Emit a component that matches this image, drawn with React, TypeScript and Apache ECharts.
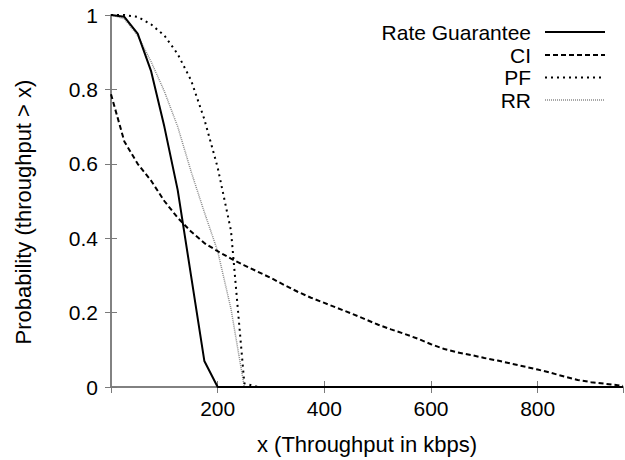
import React, { useEffect, useRef } from "react";
import * as echarts from "echarts";

const xTicks = [0, 200, 400, 600, 800];

const rgX = [0, 25, 50, 75, 100, 125, 150, 175, 200, 960];
const rgY = [1.0, 0.995, 0.95, 0.85, 0.7, 0.53, 0.3, 0.07, 0, 0];

const ciX = [0, 25, 50, 75, 100, 125, 150, 175, 200, 225, 250, 275, 300, 325, 350, 375, 400, 425, 450, 475, 500, 525, 550, 575, 600, 625, 650, 675, 700, 725, 750, 775, 800, 825, 850, 875, 900, 925, 950, 960];
const ciY = [0.787, 0.66, 0.6, 0.555, 0.5, 0.455, 0.418, 0.387, 0.365, 0.345, 0.327, 0.31, 0.293, 0.274, 0.256, 0.24, 0.226, 0.212, 0.198, 0.183, 0.168, 0.155, 0.143, 0.13, 0.115, 0.102, 0.093, 0.086, 0.078, 0.071, 0.063, 0.055, 0.047, 0.038, 0.028, 0.019, 0.013, 0.009, 0.005, 0.003];

const pfX = [0, 25, 50, 75, 100, 125, 150, 175, 200, 225, 250, 275, 960];
const pfY = [1.0, 1.0, 0.995, 0.975, 0.945, 0.895, 0.825, 0.72, 0.59, 0.42, 0.01, 0, 0];

const rrX = [0, 25, 50, 75, 100, 125, 150, 175, 200, 225, 250, 960];
const rrY = [1.0, 0.99, 0.945, 0.875, 0.795, 0.7, 0.58, 0.47, 0.365, 0.21, 0, 0];

const seriesNames = ["Rate Guarantee", "CI", "PF", "RR"];
const yAxisTitle = "Probability (throughput > x)";
const xAxisTitle = "x (Throughput in kbps)";

const zip = (xs: number[], ys: number[]) => xs.map((x, i) => [x, ys[i]]);

const FONT = "Liberation Sans, Arial, sans-serif";
const BORDER = "#7a7a7a";

export default function App() {
  const ref = useRef<HTMLDivElement>(null);
  useEffect(() => {
    if (!ref.current) return;
    const chart = echarts.init(ref.current, null, { renderer: "svg" });
    const styles = [
      { color: "#000", width: 2, type: "solid" as any },
      { color: "#000", width: 2, type: [5, 3] as any },
      { color: "#000", width: 2, type: [2, 4] as any },
      { color: "#8a8a8a", width: 1.5, type: [1, 1] as any },
    ];
    const datas = [zip(rgX, rgY), zip(ciX, ciY), zip(pfX, pfY), zip(rrX, rrY)];
    const legendX = 531;
    const lineX1 = 545;
    const lineX2 = 605;
    const rowY = [32, 55, 77.5, 100];
    const graphic: any[] = [
      {
        type: "text",
        x: 23,
        y: 212,
        rotation: Math.PI / 2,
        style: { text: yAxisTitle, font: `22px ${FONT}`, fill: "#000", align: "center", verticalAlign: "middle" },
      },
    ];
    seriesNames.forEach((n, i) => {
      graphic.push({
        type: "text",
        x: legendX,
        y: rowY[i],
        style: { text: n, font: `21px ${FONT}`, fill: "#000", align: "right", verticalAlign: "middle" },
      });
      graphic.push({
        type: "line",
        shape: { x1: lineX1, y1: rowY[i], x2: lineX2, y2: rowY[i] },
        style: { stroke: styles[i].color, lineWidth: styles[i].width, lineDash: styles[i].type === "solid" ? null : styles[i].type },
      });
    });
    const mirrorAxisCommon = {
      axisLine: { show: true, lineStyle: { color: BORDER, width: 1.5 } },
      axisTick: { show: true, inside: true, length: 6, lineStyle: { color: BORDER } },
      axisLabel: { show: false },
      splitLine: { show: false },
    };
    chart.setOption({
      animation: false,
      backgroundColor: "#fff",
      grid: { left: 111, right: 2, top: 15, bottom: 69 },
      xAxis: [
        {
          type: "value",
          min: 0,
          max: 960,
          interval: 200,
          name: xAxisTitle,
          nameLocation: "middle",
          nameGap: 46,
          nameTextStyle: { fontFamily: FONT, fontSize: 22, color: "#000" },
          axisLine: { show: true, lineStyle: { color: BORDER, width: 1.5 } },
          axisTick: { show: true, inside: true, length: 6, lineStyle: { color: BORDER } },
          axisLabel: {
            fontFamily: FONT,
            fontSize: 21,
            color: "#000",
            margin: 11,
            showMinLabel: false,
            showMaxLabel: false,
            formatter: (v: number) => (xTicks.includes(v) && v !== 0 ? String(v) : ""),
          },
          splitLine: { show: false },
        },
        { type: "value", position: "top", min: 0, max: 960, interval: 200, ...mirrorAxisCommon },
      ],
      yAxis: [
        {
          type: "value",
          min: 0,
          max: 1,
          interval: 0.2,
          axisLine: { show: true, lineStyle: { color: BORDER, width: 1.5 } },
          axisTick: { show: true, inside: true, length: 6, lineStyle: { color: BORDER } },
          axisLabel: { fontFamily: FONT, fontSize: 21, color: "#000", margin: 13 },
          splitLine: { show: false },
        },
        { type: "value", position: "right", min: 0, max: 1, interval: 0.2, ...mirrorAxisCommon },
      ],
      graphic,
      series: seriesNames.map((n, i) => ({
        name: n,
        type: "line",
        data: datas[i],
        showSymbol: false,
        symbol: "none",
        lineStyle: styles[i],
        itemStyle: { color: styles[i].color },
        z: 10 - i,
      })),
    });
    return () => chart.dispose();
  }, []);
  return <div ref={ref} style={{ position: "fixed", left: 0, top: 0, width: 625, height: 460 }} />;
}
